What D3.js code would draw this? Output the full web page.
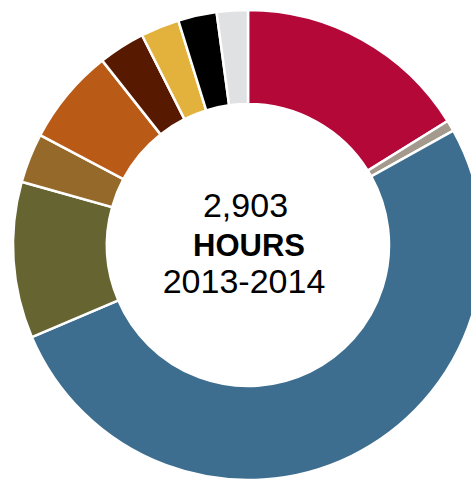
<!DOCTYPE html>
<html>
<head>
<meta charset="utf-8">
<script src="https://cdn.jsdelivr.net/npm/d3@7"></script>
<style>
  body { margin: 0; background: #fff; }
  svg { display: block; }
</style>
</head>
<body>
<svg></svg>
<script>
var width = 471;
var height = 479;

// hours per category, clockwise from 12 o'clock
var categories = ["a", "b", "c", "d", "e", "f", "g", "h", "i", "j"];
var hours = [469, 22, 1500, 312, 99, 192, 93, 77, 77, 62];
var colors = ["#b30838", "#a39a8d", "#3d6e8f", "#666531", "#94692a",
              "#ba5a17", "#571a00", "#e3b23c", "#000000", "#e0e1e3"];
var centerLines = ["2,903", "HOURS", "2013-2014"];

var data = categories.map((c, i) => ({ name: c, value: hours[i], color: colors[i] }));

var cx = 248, cy = 245;
var outer = 235, inner = 141;

var pie = d3.pie()
    .value(d => d.value)
    .sort(null);

var arc = d3.arc()
    .innerRadius(inner)
    .outerRadius(outer);

var svg = d3.select("svg")
    .attr("width", width)
    .attr("height", height);

var g = svg.append("g")
    .attr("transform", "translate(" + cx + "," + cy + ")");

g.selectAll("path")
  .data(pie(data))
  .enter()
  .append("path")
    .attr("d", arc)
    .attr("fill", d => d.data.color)
    .attr("stroke", "#fff")
    .attr("stroke-width", 2.5);

//center label
var ys = [217, 256, 293];
var xs = [245.5, 249, 244];
g.selectAll("text")
  .data(centerLines)
  .enter()
  .append("text")
    .attr("x", (d, i) => xs[i] - cx)
    .attr("y", (d, i) => ys[i] - cy)
    .style("text-anchor", "middle")
    .style("font-family", "'Liberation Sans', Arial, sans-serif")
    .style("font-size", (d, i) => i === 1 ? "31px" : "34px")
    .style("font-weight", (d, i) => i === 1 ? "bold" : "normal")
    .text(d => d);
</script>
</body>
</html>
